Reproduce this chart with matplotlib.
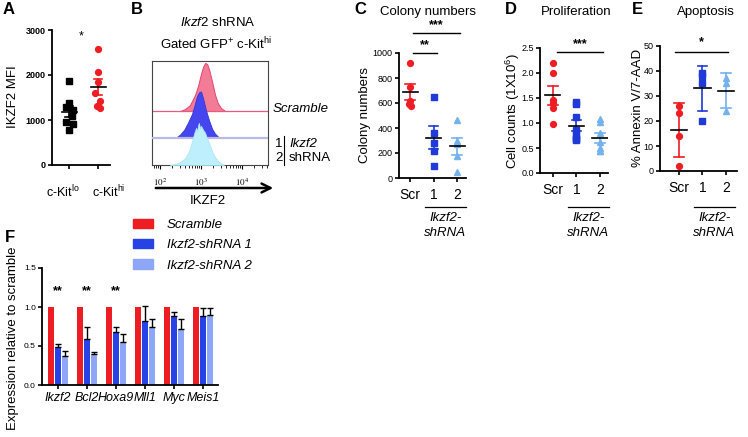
import numpy as np
import matplotlib
matplotlib.use('Agg')
import matplotlib.pyplot as plt
from matplotlib.patches import Patch
from matplotlib.transforms import blended_transform_factory

plt.rcParams['font.family'] = ['Liberation Sans', 'DejaVu Sans']
plt.rcParams['mathtext.fontset'] = 'custom'
plt.rcParams['mathtext.rm'] = 'Liberation Sans'
plt.rcParams['mathtext.it'] = 'Liberation Sans:italic'
plt.rcParams['mathtext.bf'] = 'Liberation Sans:bold'

# ---- data ----
# A: IKZF2 MFI
kit_lo = [1870, 1380, 1280, 1230, 1100, 950, 920, 780]
kit_hi = [2570, 2060, 1840, 1590, 1420, 1320, 1270]
a_labels = ['c-Kit$^{\\mathrm{lo}}$', 'c-Kit$^{\\mathrm{hi}}$']

# B: flow histograms (log10 IKZF2, relative counts)
scr_log = [2.49, 2.61, 2.73, 2.85, 2.93, 3.00, 3.05, 3.10, 3.15, 3.20, 3.27, 3.34, 3.41, 3.49, 3.59]
scr_cnt = [0, 2, 6, 16, 26, 38, 45, 49, 48, 42, 30, 17, 8, 3, 0]
sh1_log = [2.39, 2.49, 2.59, 2.68, 2.78, 2.85, 2.90, 2.95, 3.00, 3.05, 3.12, 3.20, 3.27, 3.34, 3.44]
sh1_cnt = [0, 3, 8, 15, 24, 34, 42, 46, 47, 40, 28, 17, 9, 4, 0]
sh2_log = [2.24, 2.37, 2.49, 2.61, 2.71, 2.78, 2.83, 2.88, 2.90, 2.93, 2.95, 2.98, 3.00,
           3.05, 3.10, 3.15, 3.20, 3.27, 3.34, 3.44, 3.56]
sh2_cnt = [0, 1, 3, 7, 14, 24, 32, 38, 34, 41, 43, 37, 40, 36, 33, 27, 22, 14, 8, 3, 0]

# C: colony numbers
col_scr = [920, 730, 620, 590, 580]
col_sh1 = [650, 360, 280, 220, 100]
col_sh2 = [465, 300, 270, 180, 46]
# D: cell counts (1x10^6)
cnt_scr = [2.2, 2.0, 1.45, 1.4, 1.3, 0.97]
cnt_sh1 = [1.42, 1.38, 1.12, 0.85, 0.75, 0.7, 0.68, 0.65]
cnt_sh2 = [1.08, 1.02, 0.8, 0.62, 0.5, 0.45, 0.45]
# E: % Annexin V / 7-AAD
apo_scr = [26, 23, 14, 2]
apo_sh1 = [39, 38, 35, 20]
apo_sh2 = [37, 35, 24]
group_labels = ['Scr', '1', '2']

# F: qPCR expression relative to scramble
genes = ['Ikzf2', 'Bcl2', 'Hoxa9', 'Mll1', 'Myc', 'Meis1']
expr_scr = [1.0, 1.0, 1.0, 1.0, 1.0, 1.0]
expr_sh1 = [0.49, 0.59, 0.68, 0.82, 0.89, 0.88]
err_sh1 = [0.04, 0.15, 0.07, 0.19, 0.05, 0.11]
expr_sh2 = [0.37, 0.40, 0.55, 0.75, 0.72, 0.90]
err_sh2 = [0.06, 0.02, 0.10, 0.10, 0.12, 0.09]
legend_labels = ['Scramble', 'Ikzf2-shRNA 1', 'Ikzf2-shRNA 2']

RED = '#ee1d23'
BLUE = '#1f3ad8'
LIGHT = '#74b2ee'
F_BLUE = '#2743e6'
F_LIGHT = '#8ea6f7'

W, H = 748, 437
fig = plt.figure(figsize=(W / 100, H / 100), dpi=100)


def px_ax(l, t, r, b):
    return fig.add_axes([l / W, 1 - b / H, (r - l) / W, (b - t) / H])


def ftext(x, y, s, **kw):
    kw.setdefault('ha', 'center')
    kw.setdefault('va', 'center')
    fig.text(x / W, 1 - y / H, s, **kw)


def style_ax(ax, ysize=6.5, ybold=False, xpad=4):
    for s in ['top', 'right']:
        ax.spines[s].set_visible(False)
    for s in ['left', 'bottom']:
        ax.spines[s].set_linewidth(1.3)
    ax.tick_params(length=3, width=1.2, pad=1.5)
    ax.tick_params(axis='x', pad=xpad)
    ax.tick_params(axis='y', labelsize=ysize)
    if ybold:
        for t in ax.get_yticklabels():
            t.set_fontweight('bold')


def dot_group(ax, x, vals, color, marker, mean_color, mw, cw, err='sem', jit=None):
    vals = np.asarray(vals, float)
    xs = np.full(len(vals), float(x))
    if jit is not None:
        xs = xs + np.asarray(jit)
    ax.plot(xs, vals, marker, color=color, ms=4.2, ls='none', clip_on=False, zorder=3)
    m = vals.mean()
    e = vals.std(ddof=1)
    if err == 'sem':
        e = e / np.sqrt(len(vals))
    ax.plot([x, x], [m - e, m + e], color=color, lw=1.2, zorder=4)
    ax.plot([x - cw, x + cw], [m + e, m + e], color=color, lw=1.2, zorder=4)
    ax.plot([x - cw, x + cw], [m - e, m - e], color=color, lw=1.2, zorder=4)
    ax.plot([x - mw, x + mw], [m, m], color=mean_color, lw=1.2, zorder=5)


def shrna_under(ax):
    tr = blended_transform_factory(ax.transData, fig.transFigure)
    ax.plot([0.65, 2.4], [1 - 207 / H] * 2, color='black', lw=0.9, transform=tr, clip_on=False)
    ax.text(1.5, 1 - 218 / H, 'Ikzf2-', style='italic', fontsize=9.5, ha='center', va='center',
            transform=tr)
    ax.text(1.5, 1 - 233 / H, 'shRNA', style='italic', fontsize=9.5, ha='center', va='center',
            transform=tr)


def sig(ax, x0, x1, y, ystar, s):
    ax.plot([x0, x1], [y, y], color='black', lw=1.0, clip_on=False)
    ax.text((x0 + x1) / 2, ystar, s, ha='center', va='center', fontsize=9, fontweight='bold')


# ---- A ----
axa = px_ax(52, 30, 110, 165)
dot_group(axa, 0, kit_lo, 'black', 's', 'black', 0.26, 0.14,
          jit=[0, 0, -0.12, 0.12, 0.1, -0.12, 0.12, 0])
dot_group(axa, 1, kit_hi, RED, 'o', 'black', 0.26, 0.14,
          jit=[0, 0, 0, -0.1, 0.05, -0.05, 0.08])
axa.set_xlim(-0.59, 1.41)
axa.set_ylim(0, 3000)
axa.set_yticks([0, 1000, 2000, 3000])
axa.set_xticks([0, 1])
axa.set_xticklabels([])
style_ax(axa, ysize=6.5, ybold=True)
axa.text(0.4, 2850, '*', ha='center', va='center', fontsize=9)
ftext(63, 192, a_labels[0], fontsize=9)
ftext(109, 192, a_labels[1], fontsize=9)

# ---- B ----
axb = px_ax(152, 61, 268, 165)
axb.fill_between(scr_log, 55, 55 + np.array(scr_cnt), color='#f27b96', edgecolor='#e2456e',
                 lw=0.7, zorder=2)
axb.axhline(55, color='#e65a80', lw=0.9, zorder=2.5)
axb.fill_between(sh1_log, 28, 28 + np.array(sh1_cnt), color='#4646ee', edgecolor='#3535d8',
                 lw=0.6, zorder=3)
axb.axhline(28, color='#b9b9e8', lw=1.6, zorder=3.5)
axb.fill_between(sh2_log, 0, np.array(sh2_cnt), color='#bdf0fc', edgecolor='#a8e6f6',
                 lw=0.5, zorder=4)
axb.set_xlim(1.805, 4.634)
axb.set_ylim(0, 106)
axb.set_yticks([])
axb.set_xticks([2, 3, 4])
axb.set_xticklabels(['$10^{2}$', '$10^{3}$', '$10^{4}$'], fontsize=6.5)
for t in axb.get_xticklabels():
    t.set_math_fontfamily('stix')
minor = [np.log10(k * 10.0 ** d) for d in range(1, 5) for k in range(2, 10)]
axb.set_xticks([m for m in minor if 1.805 < m < 4.634], minor=True)
axb.tick_params(axis='x', which='major', length=3, width=0.8, pad=5)
axb.tick_params(axis='x', which='minor', length=1.8, width=0.6)
for s in axb.spines.values():
    s.set_linewidth(0.8)
    s.set_color('#444444')
axb.annotate('', xy=(276 / W, 1 - 188 / H), xytext=(153 / W, 1 - 188 / H),
             xycoords='figure fraction', textcoords='figure fraction',
             arrowprops=dict(arrowstyle='->', lw=1.8, color='black', mutation_scale=16))
ftext(208, 201, 'IKZF2', fontsize=9.5)
ftext(218, 23, '$\\it{Ikzf2}$ shRNA', fontsize=9.5)
ftext(216, 44, 'Gated GFP$^{+}$ c-Kit$^{\\mathrm{hi}}$', fontsize=9.5)
ftext(273, 109, 'Scramble', style='italic', fontsize=9.5, ha='left')
ftext(279, 144, '1', fontsize=9.5)
ftext(279, 158, '2', fontsize=9.5)
fig.add_artist(plt.Line2D([284 / W, 284 / W], [1 - 136 / H, 1 - 165 / H], color='black', lw=0.8))
ftext(289, 144, 'Ikzf2', style='italic', fontsize=9.5, ha='left')
ftext(289, 158, 'shRNA', fontsize=9.5, ha='left')

# ---- C ----
axc = px_ax(399, 53, 466, 178)
dot_group(axc, 0, col_scr, RED, 'o', 'black', 0.32, 0.2, jit=[0, 0, 0, -0.05, 0.05])
dot_group(axc, 1, col_sh1, BLUE, 's', 'black', 0.32, 0.2)
dot_group(axc, 2, col_sh2, LIGHT, '^', 'black', 0.32, 0.2)
axc.set_xlim(-0.47, 2.38)
axc.set_ylim(0, 1000)
axc.set_yticks(range(0, 1001, 200))
axc.set_xticks([0, 1, 2])
axc.set_xticklabels(group_labels, fontsize=10)
style_ax(axc)
sig(axc, 0.13, 2.13, 1160, 1220, '***')
sig(axc, 0.13, 1.15, 1000, 1060, '**')
shrna_under(axc)

# ---- D ----
axd = px_ax(540, 48, 608, 173)
dot_group(axd, 0, cnt_scr, RED, 'o', 'black', 0.32, 0.2)
dot_group(axd, 1, cnt_sh1, BLUE, 's', 'black', 0.32, 0.2)
dot_group(axd, 2, cnt_sh2, LIGHT, '^', 'black', 0.32, 0.2)
axd.set_xlim(-0.55, 2.34)
axd.set_ylim(0, 2.5)
axd.set_yticks(np.arange(0, 2.51, 0.5))
axd.set_yticklabels(['0.0', '0.5', '1.0', '1.5', '2.0', '2.5'])
axd.set_xticks([0, 1, 2])
axd.set_xticklabels(group_labels, fontsize=10)
style_ax(axd)
sig(axd, 0.17, 2.13, 2.42, 2.58, '***')
shrna_under(axd)

# ---- E ----
axe = px_ax(660, 46, 737, 171)
dot_group(axe, 0, apo_scr, RED, 'o', 'black', 0.36, 0.2, err='sd')
dot_group(axe, 1, apo_sh1, BLUE, 's', 'black', 0.36, 0.2, err='sd')
dot_group(axe, 2, apo_sh2, LIGHT, '^', 'black', 0.36, 0.2, err='sd')
axe.set_xlim(-0.81, 2.47)
axe.set_ylim(0, 50)
axe.set_yticks(range(0, 51, 10))
axe.set_xticks([0, 1, 2])
axe.set_xticklabels(group_labels, fontsize=10)
style_ax(axe)
sig(axe, -0.17, 2.09, 47.6, 51.6, '*')
shrna_under(axe)

# ---- F ----
axf = px_ax(42, 268, 218, 385)
x = np.arange(len(genes))
zeros = np.zeros(len(genes))
ekw = dict(ecolor='black', elinewidth=1.0, capsize=2, capthick=1.0)
axf.bar(x - 0.24, expr_scr, 0.19, color=RED)
axf.bar(x, expr_sh1, 0.19, color=F_BLUE, yerr=[zeros, err_sh1], error_kw=ekw)
axf.bar(x + 0.24, expr_sh2, 0.19, color=F_LIGHT, yerr=[zeros, err_sh2], error_kw=ekw)
axf.set_xlim(-0.55, 5.52)
axf.set_ylim(0, 1.5)
axf.set_yticks([0, 0.5, 1.0, 1.5])
axf.set_yticklabels(['0.0', '0.5', '1.0', '1.5'])
axf.set_xticks(x)
axf.set_xticklabels(genes, fontsize=9, style='italic')
style_ax(axf, ysize=6, xpad=2)
for i in range(3):
    axf.text(x[i], 1.2, '**', ha='center', va='center', fontsize=9, fontweight='bold')
handles = [Patch(color=RED), Patch(color=F_BLUE), Patch(color=F_LIGHT)]
fig.legend(handles, legend_labels, loc='upper left', bbox_to_anchor=(133 / W, 1 - 219 / H),
           frameon=False, borderpad=0, borderaxespad=0, handlelength=1.5, handleheight=0.7,
           labelspacing=0.6, handletextpad=1.05, prop={'style': 'italic', 'size': 9.5})

# ---- titles / axis labels / panel letters ----
ftext(428, 12, 'Colony numbers', fontsize=9.5)
ftext(576, 12, 'Proliferation', fontsize=9.5)
ftext(706, 12, 'Apoptosis', fontsize=9.5)
ftext(13, 97, 'IKZF2 MFI', fontsize=9.5, rotation=90)
ftext(365, 115, 'Colony numbers', fontsize=9.5, rotation=90)
ftext(513, 111, 'Cell counts (1X10$^{6}$)', fontsize=9.5, rotation=90)
ftext(638, 108, '% Annexin V/7-AAD', fontsize=9.5, rotation=90)
ftext(13, 338, 'Expression relative to scramble', fontsize=9.5, rotation=90)
for letter, lx, ly in [('A', 9, 10), ('B', 137, 9), ('C', 360, 10), ('D', 511, 10),
                       ('E', 637, 10), ('F', 10, 237)]:
    ftext(lx, ly, letter, fontsize=12, fontweight='bold')

fig.savefig('out.png', dpi=100)
